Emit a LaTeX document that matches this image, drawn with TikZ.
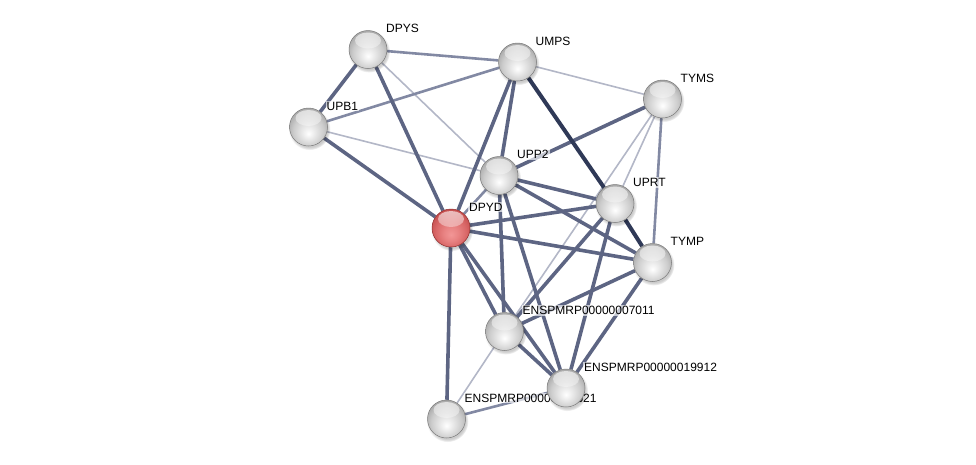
\documentclass[tikz,border=0pt]{standalone}
\usepackage{fontspec}
\setmainfont{Liberation Sans}
\usetikzlibrary{fadings,shadows,backgrounds}
\definecolor{edgeDark}{HTML}{2F3957}
\definecolor{edgeStrong}{HTML}{5D6583}
\definecolor{edgeMid}{HTML}{8289A3}
\definecolor{edgeLight}{HTML}{B3B7C7}
\definecolor{rimGray}{HTML}{7A7A7A}
\definecolor{rimRed}{HTML}{8E2A2A}
\definecolor{redA}{HTML}{F29696}
\definecolor{redB}{HTML}{E88282}
\definecolor{redC}{HTML}{D96868}
\definecolor{redD}{HTML}{C24A4A}
\definecolor{redE}{HTML}{A03434}
\pgfdeclareradialshading{spheregray}{\pgfpoint{0bp}{-9bp}}{%
  color(0bp)=(white); color(10bp)=(white!90!black); color(20bp)=(white!80!black);
  color(30bp)=(white!64!black); color(34bp)=(white!50!black); color(50bp)=(white!50!black)}
\pgfdeclareradialshading{spherered}{\pgfpoint{0bp}{-9bp}}{%
  color(0bp)=(redA); color(10bp)=(redB); color(20bp)=(redC);
  color(30bp)=(redD); color(34bp)=(redE); color(50bp)=(redE)}
\tikzfading[name=hlfade, top color=transparent!35, bottom color=transparent!100]
\begin{document}
\begin{tikzpicture}[x=1pt,y=-1pt,
  ball/.style={circle, minimum size=38pt, inner sep=0pt, shading=spheregray,
    draw=rimGray, line width=0.5pt,
    circular drop shadow={shadow xshift=1pt, shadow yshift=-2pt, opacity=0.2, fill=black},
    path picture={\fill[white, path fading=hlfade]
      ([yshift=-10pt]path picture bounding box.north) ellipse (13pt and 8pt);}},
  redball/.style={ball, shading=spherered, draw=rimRed},
  lbl/.style={font=\fontsize{12}{14}\selectfont, anchor=base west, inner sep=1pt,
    fill=white, fill opacity=0.65, text opacity=1, text=black},
  edark/.style={draw=edgeDark, line width=4pt},
  estrong/.style={draw=edgeStrong, line width=3.6pt},
  emid/.style={draw=edgeMid, line width=2.6pt},
  elight/.style={draw=edgeLight, line width=1.6pt}]
\useasboundingbox (0,0) rectangle (976,464);

\node[ball] (dpys) at (368,49.5) {};
\node[ball] (umps) at (517.5,62) {};
\node[ball] (tyms) at (662.5,99) {};
\node[ball] (upb1) at (308.5,127) {};
\node[ball] (upp2) at (499,175.5) {};
\node[ball] (uprt) at (615,203.5) {};
\node[redball] (dpyd) at (451,228) {};
\node[ball] (tymp) at (652.5,262.5) {};
\node[ball] (e7011) at (504.5,331.5) {};
\node[ball] (e19912) at (566,388) {};
\node[ball] (e21) at (446.5,419) {};

\begin{scope}[on background layer]
  % light edges
  \draw[elight] (dpys) -- (upp2);
  \draw[elight] (umps) -- (tyms);
  \draw[elight] (upb1) -- (upp2);
  \draw[elight] (tyms) -- (uprt);
  \draw[elight] (tyms) -- (e7011);
  \draw[elight] (e7011) -- (e21);
  % medium edges
  \draw[emid] (dpys) -- (umps);
  \draw[emid] (umps) -- (upb1);
  \draw[emid] (tyms) -- (tymp);
  \draw[emid] (upp2) -- (dpyd);
  \draw[emid] (e21) -- (e19912);
  % strong edges
  \draw[estrong] (dpys) -- (upb1);
  \draw[estrong] (dpys) -- (dpyd);
  \draw[estrong] (upb1) -- (dpyd);
  \draw[estrong] (umps) -- (dpyd);
  \draw[estrong] (umps) -- (upp2);
  \draw[estrong] (tyms) -- (upp2);
  \draw[estrong] (dpyd) -- (uprt);
  \draw[estrong] (dpyd) -- (tymp);
  \draw[estrong] (upp2) -- (uprt);
  \draw[estrong] (upp2) -- (tymp);
  \draw[estrong] (upp2) -- (e7011);
  \draw[estrong] (upp2) -- (e19912);
  \draw[estrong] (dpyd) -- (e7011);
  \draw[estrong] (dpyd) -- (e19912);
  \draw[estrong] (dpyd) -- (e21);
  \draw[estrong] (uprt) -- (e7011);
  \draw[estrong] (uprt) -- (e19912);
  \draw[estrong] (tymp) -- (e7011);
  \draw[estrong] (tymp) -- (e19912);
  \draw[estrong] (e7011) -- (e19912);
  % dark edges
  \draw[edark] (umps) -- (uprt);
  \draw[edark] (uprt) -- (tymp);
  % labels
  \node[lbl] (ldpys) at ([xshift=17pt,yshift=17pt]dpys.center) {DPYS};
  \node[lbl] (lumps) at ([xshift=17pt,yshift=17pt]umps.center) {UMPS};
  \node[lbl] (ltyms) at ([xshift=17pt,yshift=17pt]tyms.center) {TYMS};
  \node[lbl] (lupb1) at ([xshift=17pt,yshift=17pt]upb1.center) {UPB1};
  \node[lbl] (lupp2) at ([xshift=17pt,yshift=17pt]upp2.center) {UPP2};
  \node[lbl] (luprt) at ([xshift=17pt,yshift=17pt]uprt.center) {UPRT};
  \node[lbl] (ldpyd) at ([xshift=17pt,yshift=17pt]dpyd.center) {DPYD};
  \node[lbl] (ltymp) at ([xshift=17pt,yshift=17pt]tymp.center) {TYMP};
  \node[lbl] (le7011) at ([xshift=17pt,yshift=17pt]e7011.center) {ENSPMRP00000007011};
  \node[lbl] (le19912) at ([xshift=17pt,yshift=17pt]e19912.center) {ENSPMRP00000019912};
  \node[lbl] (le21) at ([xshift=17pt,yshift=17pt]e21.center) {ENSPMRP00000011621};
\end{scope}
\end{tikzpicture}
\end{document}
